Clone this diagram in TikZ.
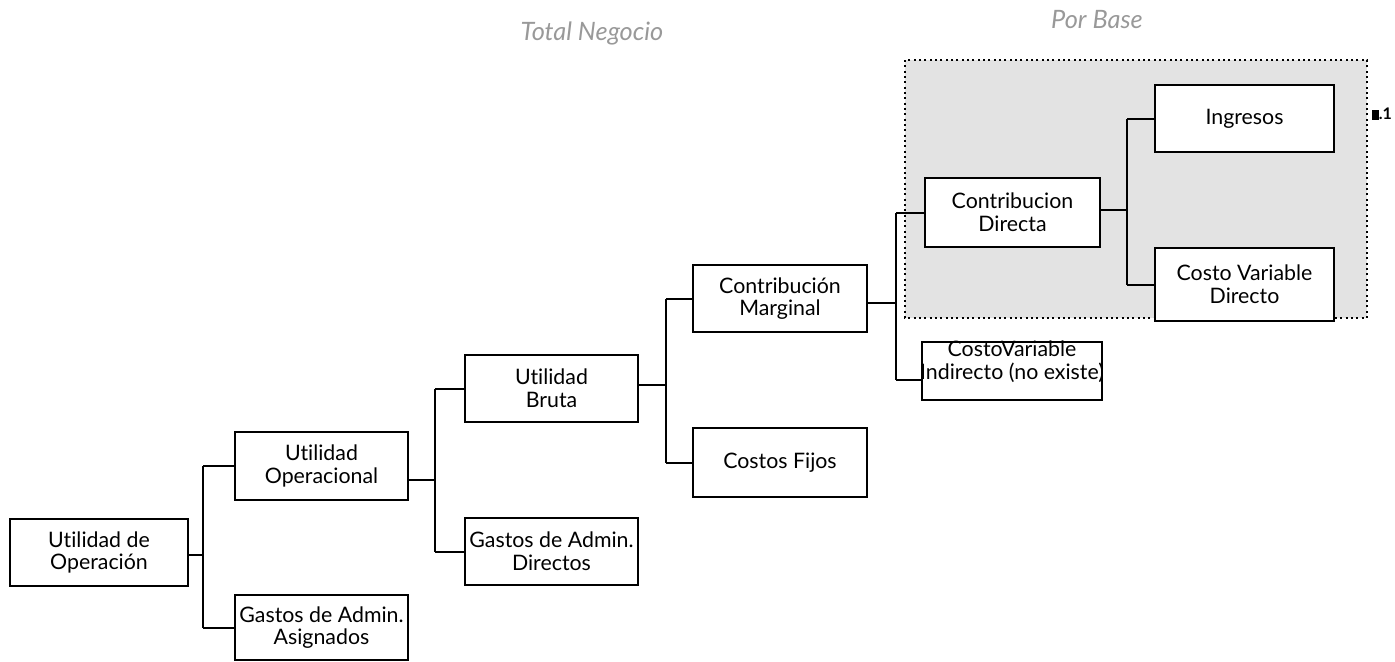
\documentclass[tikz,border=0pt]{standalone}
\usepackage{fontspec}
\setmainfont[Ligatures={NoCommon}]{Lato}
\begin{document}
\begin{tikzpicture}[x=0.75pt,y=-0.75pt,
  box/.style={draw, line width=1.4pt, fill=white, align=center, inner sep=0pt,
    font=\fontsize{16}{17}\selectfont},
  sz/.style 2 args={minimum width=#1*0.75pt, minimum height=#2*0.75pt},
  link/.style={line width=1.5pt},
  header/.style={font=\fontsize{19}{21}\selectfont\itshape, text=black!40},
  region/.style={draw, line width=0.9pt, dash pattern=on 1.5pt off 2.5pt, fill=black!11}]
\useasboundingbox (0,0) rectangle (1395,661);

% column headers
\node[header] (tot) at (592,33) {Total Negocio};
\node[header] (base) at (1097,20) {Por Base};

% shaded region of the per-base breakdown
\draw[region] (905,60) rectangle (1367,318);
\node[font=\fontsize{12}{13}\selectfont\bfseries, inner sep=0pt] (mark) at (1382,114) {\rule{5pt}{7pt}.1};

% boxes
\node[box, sz={178}{67}] (A) at (99,552.5) {Utilidad de\\Operación};
\node[box, sz={173}{68}] (B) at (321.5,466) {Utilidad\\Operacional};
\node[box, sz={173}{65}] (C) at (321.5,627.5) {Gastos de Admin.\\Asignados};
\node[box, sz={173}{67}] (D) at (551.5,388.5) {Utilidad\\Bruta};
\node[box, sz={173}{67}] (E) at (551.5,551.5) {Gastos de Admin.\\Directos};
\node[box, sz={174}{67}] (F) at (780,298.5) {Contribución\\Marginal};
\node[box, sz={174}{69}] (G) at (780,462.5) {Costos Fijos};
\node[box, sz={175}{69}] (H) at (1012.5,212.5) {Contribucion\\Directa};
\node[box, sz={180}{58}] (I) at (1012,371) {};
\node[font=\fontsize{16}{17}\selectfont, align=center, inner sep=0pt] (It) at (1012,362) {CostoVariable\\Indirecto (no existe)};
\node[box, sz={179}{67}] (J) at (1244.5,118.5) {Ingresos};
\node[box, sz={179}{73}] (K) at (1244.5,284.5) {Costo Variable\\Directo};

% branch points
\coordinate (a1) at (203,555);
\coordinate (b1) at (435,480);
\coordinate (d1) at (666,385);
\coordinate (f1) at (896,303);
\coordinate (h1) at (1127,210);
\coordinate (i1) at (896,380);

% connectors
\draw[link] (A.east |- a1) -- (a1);
\draw[link] (a1 |- B.west) -- (a1 |- C.west);
\draw[link] (a1 |- B.west) -- (B.west);
\draw[link] (a1 |- C.west) -- (C.west);

\draw[link] (B.east |- b1) -- (b1);
\draw[link] (b1 |- D.west) -- (b1 |- E.west);
\draw[link] (b1 |- D.west) -- (D.west);
\draw[link] (b1 |- E.west) -- (E.west);

\draw[link] (D.east |- d1) -- (d1);
\draw[link] (d1 |- F.west) -- (d1 |- G.west);
\draw[link] (d1 |- F.west) -- (F.west);
\draw[link] (d1 |- G.west) -- (G.west);

\draw[link] (F.east |- f1) -- (f1);
\draw[link] (f1 |- H.west) -- (i1);
\draw[link] (f1 |- H.west) -- (H.west);
\draw[link] (i1) -- (I.west |- i1);

\draw[link] (H.east |- h1) -- (h1);
\draw[link] (h1 |- J.west) -- (h1 |- K.west);
\draw[link] (h1 |- J.west) -- (J.west);
\draw[link] (h1 |- K.west) -- (K.west);
\end{tikzpicture}
\end{document}
